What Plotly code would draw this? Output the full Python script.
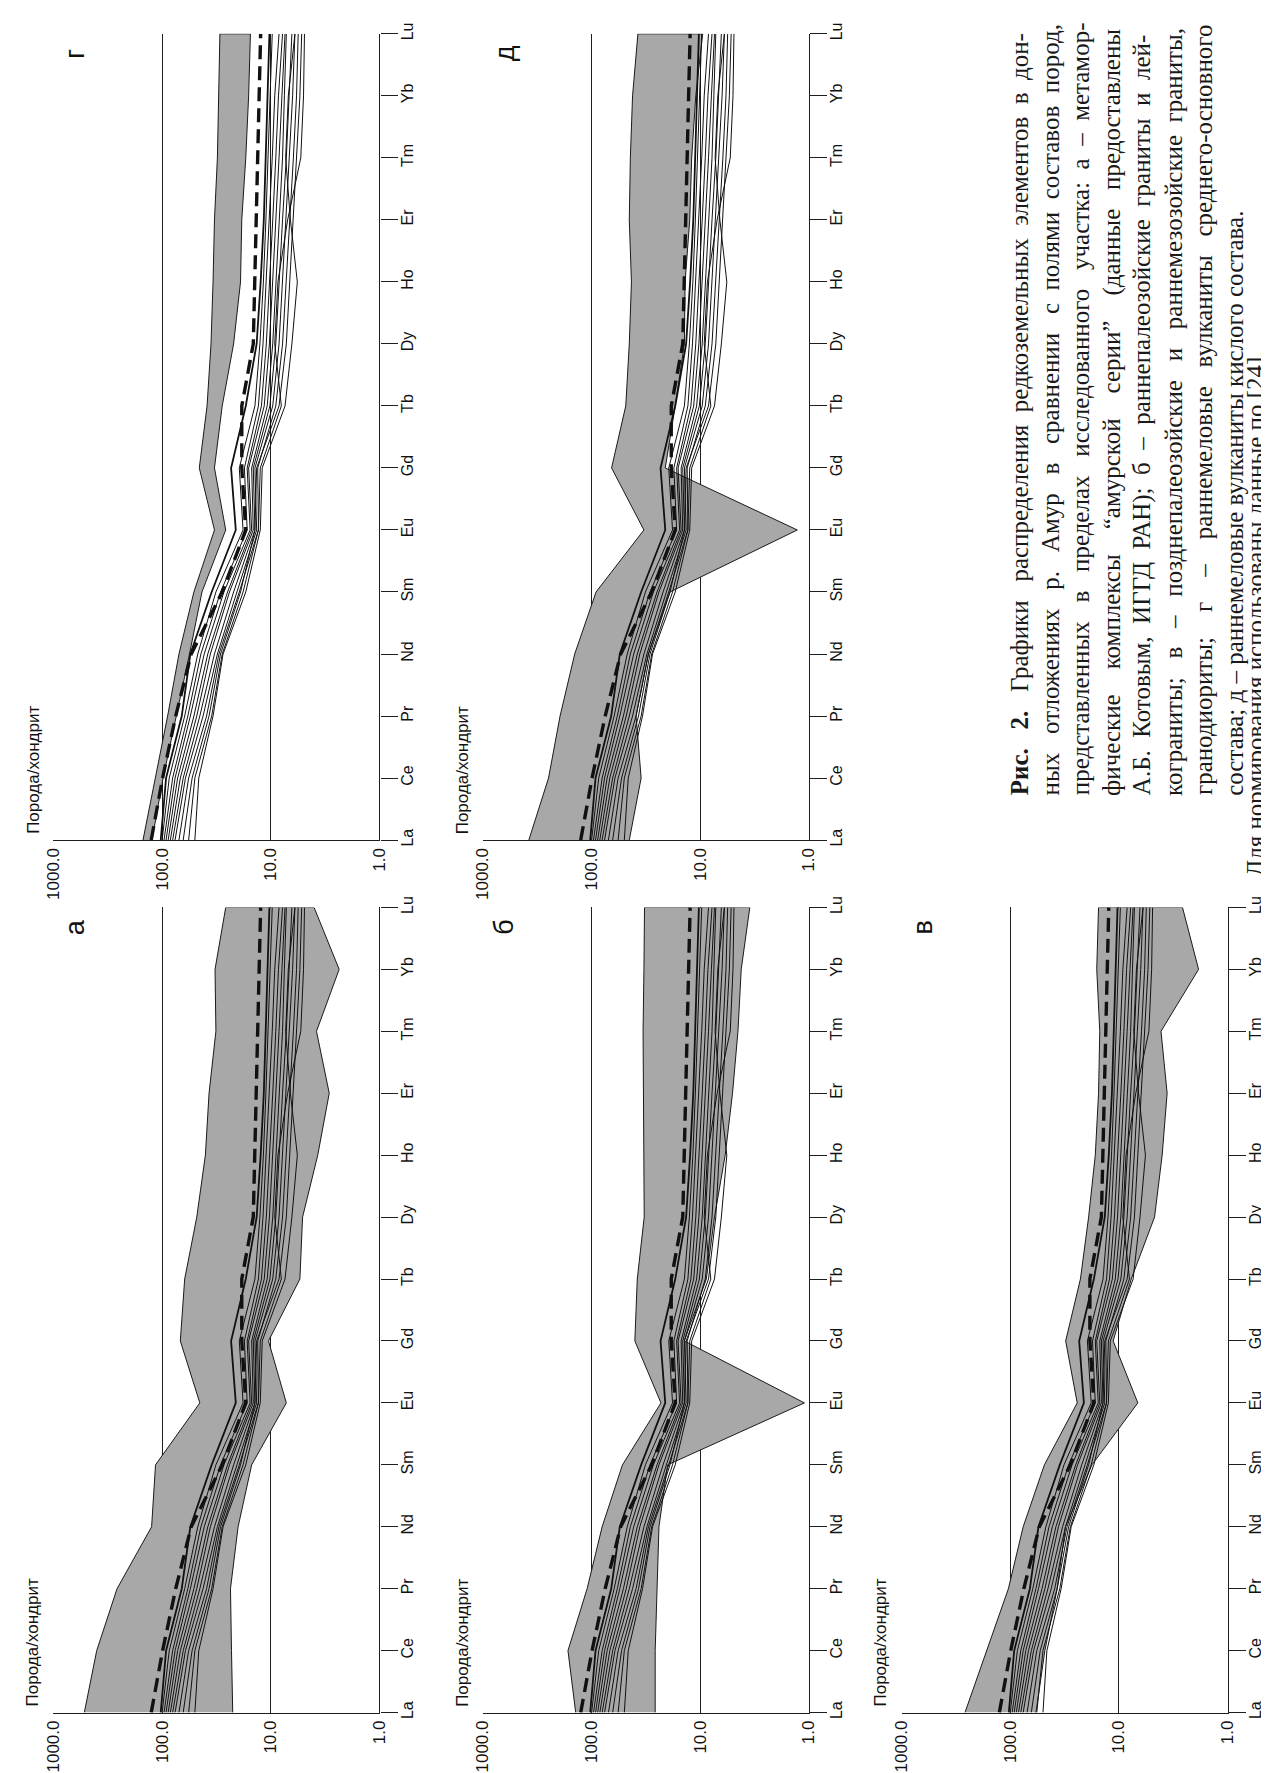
import re
import plotly.graph_objects as go

# ---------------- data ----------------
ELEMENTS = ["La", "Ce", "Pr", "Nd", "Sm", "Eu", "Gd", "Tb", "Dy", "Ho", "Er", "Tm", "Yb", "Lu"]
LOG_TICKS = [1000, 100, 10, 1]
LOG_TICK_TEXT = ["1000.0", "100.0", "10.0", "1.0"]
Y_TITLE = "Порода/хондрит"

# river sediment samples (same in every panel)
SED_MEAN = [126, 99, 75, 54, 28, 17, 18.5, 18.5, 14.5, 14, 13.7, 13.2, 12.8, 12.4]
SED_1 = [103, 92, 66, 55, 35, 21.0, 23.2, 17.0, 13.5, 12.4, 11.6, 11.2, 10.8, 10.3]
SED_2 = [100, 86, 62, 47, 32, 18.0, 19.5, 14.0, 12.6, 11.7, 11.1, 10.6, 10.2, 9.7]
SED_3 = [96, 80, 58, 44, 29, 16.5, 17.5, 13.0, 11.8, 11.0, 10.3, 9.7, 9.2, 8.4]
SED_4 = [92, 76, 55, 41, 27, 15.5, 16.5, 12.2, 11.0, 10.2, 9.6, 9.0, 8.5, 7.8]
SED_5 = [88, 72, 51, 38, 25, 15.0, 16.0, 11.5, 10.3, 9.6, 9.0, 8.4, 7.9, 7.4]
SED_6 = [84, 68, 48, 36, 24, 14.5, 15.0, 10.8, 9.6, 9.0, 8.4, 7.8, 7.5, 7.2]
SED_7 = [80, 64, 45, 33, 22, 14.0, 14.5, 10.2, 9.0, 8.4, 7.8, 7.2, 6.8, 6.4]
SED_8 = [76, 61, 42, 31, 20.5, 13.5, 14.0, 9.6, 8.4, 7.8, 7.3, 6.8, 6.3, 6.0]
SED_9 = [70, 57, 39, 30, 19.5, 13.0, 13.2, 9.0, 7.8, 7.2, 6.7, 6.2, 5.8, 5.6]
SED_10 = [64, 53, 37, 29, 19, 14.0, 13.5, 8.4, 7.2, 6.7, 6.3, 5.8, 5.4, 5.2]
SED_11 = [57, 50, 35, 28, 18, 13.0, 12.5, 8.0, 9.2, 8.6, 7.0, 5.3, 5.0, 4.9]
SED_12 = [50, 46, 34, 27.5, 17, 12.5, 12.0, 7.4, 6.4, 5.7, 6.6, 7.3, 6.9, 6.0]
SED_LINES = [SED_1, SED_2, SED_3, SED_4, SED_5, SED_6, SED_7, SED_8, SED_9, SED_10, SED_11, SED_12]

# rock composition fields: upper and lower boundaries
FIELD_A_UPPER = [520, 400, 260, 125, 115, 45, 68, 62, 48, 40, 37, 32, 32.6, 26]
FIELD_A_LOWER = [22.4, 23, 23.5, 20, 15, 7.2, 10.5, 5.4, 5.1, 3.7, 2.9, 3.8, 2.35, 4.0]
FIELD_B_UPPER = [140, 165, 110, 80, 52, 23, 40, 38, 32.8, 33, 33, 33.6, 33, 32.6]
FIELD_B_LOWER = [26, 26, 25, 24, 20, 1.1, 14, 8.8, 7.4, 5.9, 5.05, 4.5, 4.2, 3.5]
FIELD_V_UPPER = [261, 164, 104, 76, 48.5, 24.2, 30.9, 22.6, 19, 16.5, 15.4, 15, 16, 15.4]
FIELD_V_LOWER = [58, 48, 37, 31, 17.7, 6.7, 11.3, 7.7, 4.7, 4.0, 3.6, 4.1, 1.85, 2.6]
FIELD_G_UPPER = [150, 116, 89, 70, 51, 33, 45.5, 38.6, 35.5, 34, 33, 31, 30, 29.4]
FIELD_G_LOWER = [124, 98, 74, 56, 43, 26, 33, 28, 22, 19, 18.5, 17, 16, 15.4]
FIELD_D_UPPER = [378, 249, 195, 143, 91, 33, 65.5, 48.5, 45, 43, 45, 44, 42, 37.5]
FIELD_D_LOWER = [45, 35, 39, 30, 19, 1.28, 21, 17, 14, 13.8, 12.5, 12, 11, 9.5]

CAPTION_LINES = [
    "<b>Рис. 2.</b> Графики распределения редкоземельных элементов в дон-",
    "ных отложениях р. Амур в сравнении с полями составов пород,",
    "представленных в пределах исследованного участка: а – метамор-",
    "фические комплексы “амурской серии” (данные предоставлены",
    "А.Б. Котовым, ИГГД РАН); б – раннепалеозойские граниты и лей-",
    "кограниты; в – позднепалеозойские и раннемезозойские граниты,",
    "гранодиориты; г – раннемеловые вулканиты среднего-основного",
    "состава; д – раннемеловые вулканиты кислого состава.",
]
BODY_LINE = "Для нормирования использованы данные по [24]."

# ---------------- layout ----------------
W, H = 1269, 1773
COLS = {1: (37, 368), 2: (473, 804), 3: (898, 1229)}
ROWS = {"top": (15, 829), "bottom": (897, 1710)}
PANELS = [
    ("г", FIELD_G_UPPER, FIELD_G_LOWER, 1, "top"),
    ("д", FIELD_D_UPPER, FIELD_D_LOWER, 2, "top"),
    ("а", FIELD_A_UPPER, FIELD_A_LOWER, 1, "bottom"),
    ("б", FIELD_B_UPPER, FIELD_B_LOWER, 2, "bottom"),
    ("в", FIELD_V_UPPER, FIELD_V_LOWER, 3, "bottom"),
]

AX_COLOR = "#1e1e1e"
SANS = "Liberation Sans, Arial, sans-serif"
SERIF = "Liberation Serif, Times New Roman, serif"

fig = go.Figure()
annotations = []
layout_axes = {}

for i, (letter, up, lo, col, row) in enumerate(PANELS, start=1):
    xa = "x" if i == 1 else f"x{i}"
    ya = "y" if i == 1 else f"y{i}"
    fig.add_trace(go.Scatter(
        x=up + lo[::-1], y=ELEMENTS + ELEMENTS[::-1],
        mode="lines", fill="toself", fillcolor="#a8a8a8",
        line=dict(color="#1a1a1a", width=1),
        xaxis=xa, yaxis=ya, hoverinfo="skip"))
    for k, s in enumerate(SED_LINES):
        fig.add_trace(go.Scatter(
            x=s, y=ELEMENTS, mode="lines",
            line=dict(color="#111111", width=1.8 if k == 0 else 1.0),
            xaxis=xa, yaxis=ya, hoverinfo="skip"))
    fig.add_trace(go.Scatter(
        x=SED_MEAN, y=ELEMENTS, mode="lines",
        line=dict(color="#111111", width=3.4, dash="14px,7px"),
        xaxis=xa, yaxis=ya, hoverinfo="skip"))

    x0, x1 = COLS[col]
    t, b = ROWS[row]
    xkey = "xaxis" if i == 1 else f"xaxis{i}"
    ykey = "yaxis" if i == 1 else f"yaxis{i}"
    layout_axes[xkey] = dict(
        domain=[x0 / W, x1 / W], anchor=ya, type="log", range=[3, 0],
        tickmode="array", tickvals=LOG_TICKS, ticktext=LOG_TICK_TEXT,
        tickangle=-90, ticks="", showgrid=True, gridcolor=AX_COLOR, gridwidth=1,
        showline=True, linecolor=AX_COLOR, linewidth=1.2, zeroline=False,
        tickfont=dict(family=SANS, size=17, color="#111"), fixedrange=True)
    layout_axes[ykey] = dict(
        domain=[(H - b) / H, (H - t) / H], anchor=xa, side="right",
        type="category", categoryorder="array", categoryarray=ELEMENTS,
        range=[0, len(ELEMENTS) - 1], ticks="outside", ticklen=17, tickwidth=1.2,
        tickcolor=AX_COLOR, showline=True, linecolor=AX_COLOR, linewidth=1.2,
        showgrid=False, zeroline=False, tickangle=-90, ticklabelstandoff=-4,
        tickfont=dict(family=SANS, size=16, color="#111"), fixedrange=True)

    annotations.append(dict(
        text=letter, xref=f"{xa} domain", yref=f"{ya} domain",
        x=22 / (x1 - x0), y=1 - 20 / (b - t), xanchor="center", yanchor="middle",
        textangle=-90, showarrow=False,
        font=dict(family=SANS, size=27, color="#111")))
    annotations.append(dict(
        text=Y_TITLE, xref=f"{xa} domain", yref=f"{ya} domain",
        x=-21 / (x1 - x0), y=4 / (b - t), xanchor="center", yanchor="bottom",
        textangle=-90, showarrow=False,
        font=dict(family=SANS, size=17, color="#111")))


# --- approximate justification of caption lines (Times-like metrics, em units) ---
def char_w(c):
    table = {"а": .444, "е": .444, "с": .444, "з": .395, "г": .41, "т": .44, "э": .444,
             "ь": .47, "в": .47, "к": .49, "ж": .69, "м": .63, "ш": .77, "щ": .77,
             "ы": .68, "ю": .73, "ф": .65, "н": .535, "и": .535, "й": .535, "п": .535, "ц": .535,
             " ": .25, ".": .25, ",": .25, ";": .278, ":": .278, "–": .5, "-": .333,
             "“": .444, "”": .444, "(": .333, ")": .333, "[": .333, "]": .333}
    if c in table:
        return table[c]
    if c.isdigit():
        return .5
    if c.isupper():
        return .68
    return .5


def justify(line, size, target):
    plain = re.sub(r"<[^>]+>", "", line)
    width = sum(char_w(c) for c in plain) * size
    gaps = line.count(" ")
    n_extra = int(round((target - width) / (0.25 * size)))
    if gaps == 0 or n_extra <= 0:
        return line
    parts = line.split(" ")
    out = parts[0]
    for g, p in enumerate(parts[1:]):
        add = n_extra // gaps + (1 if g < n_extra % gaps else 0)
        out += " " + "\u00a0" * add + p
    return out


CAP_SIZE = 25
cap_x0, cap_dx, cap_bottom, cap_len = 1018, 31.2, 786, 772
for j, line in enumerate(CAPTION_LINES):
    txt = justify(line, CAP_SIZE, cap_len) if j < len(CAPTION_LINES) - 1 else line
    annotations.append(dict(
        text=txt, xref="paper", yref="paper",
        x=(cap_x0 + j * cap_dx) / W, y=(H - cap_bottom) / H,
        xanchor="center", yanchor="bottom", textangle=-90, showarrow=False,
        font=dict(family=SERIF, size=CAP_SIZE, color="#1a1a1a")))
annotations.append(dict(
    text=BODY_LINE, xref="paper", yref="paper",
    x=1257 / W, y=(H - 868) / H,
    xanchor="center", yanchor="bottom", textangle=-90, showarrow=False,
    font=dict(family=SERIF, size=CAP_SIZE, color="#1a1a1a")))

fig.update_layout(
    width=W, height=H, margin=dict(l=0, r=0, t=0, b=0),
    paper_bgcolor="white", plot_bgcolor="white", showlegend=False,
    annotations=annotations, **layout_axes)

fig.write_html("out.html")
